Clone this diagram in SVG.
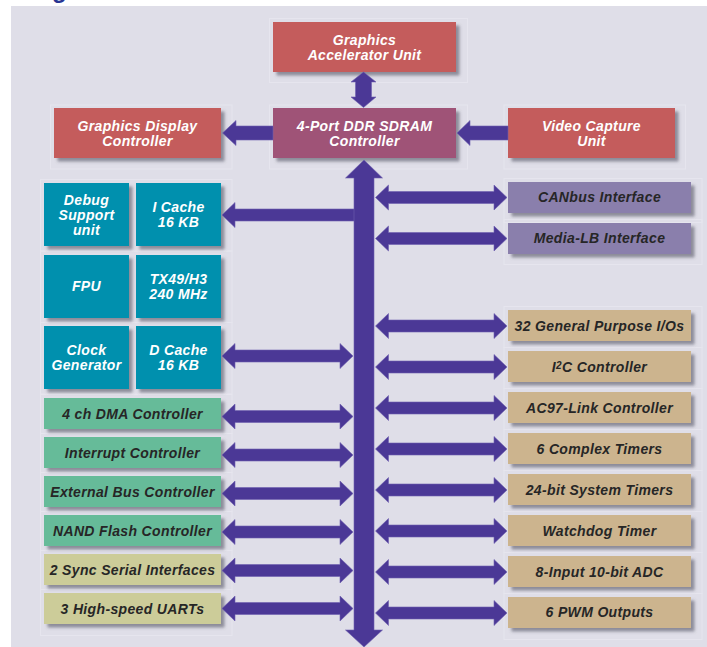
<svg xmlns="http://www.w3.org/2000/svg" xmlns:xlink="http://www.w3.org/1999/xlink" width="707" height="647" viewBox="0 0 707 647">
<defs>
<style>
.t{font-family:"Liberation Sans",Arial,sans-serif;font-weight:bold;font-style:italic;font-size:14px;letter-spacing:0.35px;text-anchor:middle}
.w{fill:#ffffff}
.d{fill:#262626}
.red{fill:#C45C5B}
.ddr{fill:#9F5277}
.teal{fill:#0090AE}
.grn{fill:#66BB99}
.kha{fill:#CCCC99}
.tan{fill:#CCB48E}
.pg{fill:#8A7FAC}
.fr{fill:none;stroke:#E6E5EE;stroke-width:1}
.arr{fill:#4B3896;stroke:#6E5FB0;stroke-width:0.6}
</style>
<filter id="sh" x="-10%" y="-20%" width="130%" height="150%">
<feDropShadow dx="3.5" dy="3.5" stdDeviation="1.8" flood-color="#555566" flood-opacity="0.6"/>
</filter>
<path id="ar" d="M375.5,0 L388.5,-12.5 L388.5,-6 L494,-6 L494,-12.5 L507,0 L494,12.5 L494,6 L388.5,6 L388.5,12.5 Z"/>
<path id="al" d="M222,0 L235,-12.5 L235,-6 L340,-6 L340,-12.5 L353,0 L340,12.5 L340,6 L235,6 L235,12.5 Z"/>
</defs>
<rect x="0" y="0" width="707" height="647" fill="#ffffff"/>
<rect x="11" y="6" width="696" height="641" fill="#DFDEE8"/>
<text x="52" y="-2" style="font-family:'Liberation Sans',Arial,sans-serif;font-weight:bold;font-size:24px;fill:#283593">g</text>

<g id="frames">
<rect class="fr" x="269.5" y="18.5" width="198" height="64"/>
<rect class="fr" x="50.5" y="105" width="181.5" height="64"/>
<rect class="fr" x="269.5" y="105" width="198" height="64"/>
<rect class="fr" x="504" y="105" width="181.5" height="64"/>
<rect class="fr" x="40.5" y="179.5" width="191.5" height="71.5"/>
<rect class="fr" x="40.5" y="251" width="191.5" height="71.5"/>
<rect class="fr" x="40.5" y="322.5" width="191.5" height="71.5"/>
<rect class="fr" x="40.5" y="394.5" width="191.5" height="39"/>
<rect class="fr" x="40.5" y="433.5" width="191.5" height="39"/>
<rect class="fr" x="40.5" y="472.5" width="191.5" height="39"/>
<rect class="fr" x="40.5" y="511.5" width="191.5" height="39"/>
<rect class="fr" x="40.5" y="550.5" width="191.5" height="39"/>
<rect class="fr" x="40.5" y="589.5" width="191.5" height="46"/>
<rect class="fr" x="504" y="178.5" width="198" height="44"/>
<rect class="fr" x="504" y="219.5" width="198" height="45"/>
<rect class="fr" x="504" y="306.5" width="198" height="41"/>
<rect class="fr" x="504" y="347.5" width="198" height="41"/>
<rect class="fr" x="504" y="388.5" width="198" height="41"/>
<rect class="fr" x="504" y="429.5" width="198" height="41"/>
<rect class="fr" x="504" y="470.5" width="198" height="41"/>
<rect class="fr" x="504" y="511.5" width="198" height="41"/>
<rect class="fr" x="504" y="552.5" width="198" height="41"/>
<rect class="fr" x="504" y="593.5" width="198" height="46"/>
</g>

<g id="gau"><rect class="red" x="273" y="22" width="183" height="50" filter="url(#sh)"/>
<text class="t w" x="364.5" y="45">Graphics</text><text class="t w" x="364.5" y="60">Accelerator Unit</text></g>
<g id="gdc"><rect class="red" x="54" y="108" width="167" height="50" filter="url(#sh)"/>
<text class="t w" x="137.5" y="130.5">Graphics Display</text><text class="t w" x="137.5" y="145.5">Controller</text></g>
<g id="ddr"><rect class="ddr" x="273" y="108" width="183" height="50" filter="url(#sh)"/>
<text class="t w" x="364.5" y="130.5">4-Port DDR SDRAM</text><text class="t w" x="364.5" y="145.5">Controller</text></g>
<g id="vcu"><rect class="red" x="508" y="108" width="167" height="50" filter="url(#sh)"/>
<text class="t w" x="591.5" y="130.5">Video Capture</text><text class="t w" x="591.5" y="145.5">Unit</text></g>

<g id="debug"><rect class="teal" x="44" y="183" width="85" height="63" filter="url(#sh)"/>
<text class="t w" x="86.5" y="205">Debug</text><text class="t w" x="86.5" y="220">Support</text><text class="t w" x="86.5" y="235">unit</text></g>
<g id="icache"><rect class="teal" x="136" y="183" width="85" height="63" filter="url(#sh)"/>
<text class="t w" x="178.5" y="211.5">I Cache</text><text class="t w" x="178.5" y="226.5">16 KB</text></g>
<g id="fpu"><rect class="teal" x="44" y="255" width="85" height="63" filter="url(#sh)"/>
<text class="t w" x="86.5" y="290.5">FPU</text></g>
<g id="tx49"><rect class="teal" x="136" y="255" width="85" height="63" filter="url(#sh)"/>
<text class="t w" x="178.5" y="283.5">TX49/H3</text><text class="t w" x="178.5" y="298.5">240 MHz</text></g>
<g id="clock"><rect class="teal" x="44" y="326" width="85" height="63" filter="url(#sh)"/>
<text class="t w" x="86.5" y="354.5">Clock</text><text class="t w" x="86.5" y="369.5">Generator</text></g>
<g id="dcache"><rect class="teal" x="136" y="326" width="85" height="63" filter="url(#sh)"/>
<text class="t w" x="178.5" y="354.5">D Cache</text><text class="t w" x="178.5" y="369.5">16 KB</text></g>

<g id="dma"><rect class="grn" x="44" y="398" width="177" height="31" filter="url(#sh)"/><text class="t d" x="132.5" y="419">4 ch DMA Controller</text></g>
<g id="intc"><rect class="grn" x="44" y="437" width="177" height="31" filter="url(#sh)"/><text class="t d" x="132.5" y="458">Interrupt Controller</text></g>
<g id="ebc"><rect class="grn" x="44" y="476" width="177" height="31" filter="url(#sh)"/><text class="t d" x="132.5" y="497">External Bus Controller</text></g>
<g id="nand"><rect class="grn" x="44" y="515" width="177" height="31" filter="url(#sh)"/><text class="t d" x="132.5" y="536">NAND Flash Controller</text></g>
<g id="sio"><rect class="kha" x="44" y="554" width="177" height="31" filter="url(#sh)"/><text class="t d" x="132.5" y="575">2 Sync Serial Interfaces</text></g>
<g id="uart"><rect class="kha" x="44" y="593" width="177" height="31" filter="url(#sh)"/><text class="t d" x="132.5" y="614">3 High-speed UARTs</text></g>

<g id="can"><rect class="pg" x="508" y="182" width="183" height="31" filter="url(#sh)"/><text class="t d" x="599.5" y="202">CANbus Interface</text></g>
<g id="mlb"><rect class="pg" x="508" y="223" width="183" height="31" filter="url(#sh)"/><text class="t d" x="599.5" y="243">Media-LB Interface</text></g>
<g id="gpio"><rect class="tan" x="508" y="310" width="183" height="31" filter="url(#sh)"/><text class="t d" x="599.5" y="330.5">32 General Purpose I/Os</text></g>
<g id="i2c"><rect class="tan" x="508" y="351" width="183" height="31" filter="url(#sh)"/><text class="t d" x="599.5" y="371.5">I<tspan font-size="10" dy="-3">2</tspan><tspan dy="3">C Controller</tspan></text></g>
<g id="ac97"><rect class="tan" x="508" y="392" width="183" height="31" filter="url(#sh)"/><text class="t d" x="599.5" y="412.5">AC97-Link Controller</text></g>
<g id="ctim"><rect class="tan" x="508" y="433" width="183" height="31" filter="url(#sh)"/><text class="t d" x="599.5" y="453.5">6 Complex Timers</text></g>
<g id="stim"><rect class="tan" x="508" y="474" width="183" height="31" filter="url(#sh)"/><text class="t d" x="599.5" y="494.5">24-bit System Timers</text></g>
<g id="wdt"><rect class="tan" x="508" y="515" width="183" height="31" filter="url(#sh)"/><text class="t d" x="599.5" y="535.5">Watchdog Timer</text></g>
<g id="adc"><rect class="tan" x="508" y="556" width="183" height="31" filter="url(#sh)"/><text class="t d" x="599.5" y="576.5">8-Input 10-bit ADC</text></g>
<g id="pwm"><rect class="tan" x="508" y="597" width="183" height="31" filter="url(#sh)"/><text class="t d" x="599.5" y="616.5">6 PWM Outputs</text></g>

<g id="connectors">
<path class="arr" d="M363.5,72 L376,82 L371.5,82 L371.5,97 L376,97 L363.5,107.5 L351,97 L355.5,97 L355.5,82 L351,82 Z"/>
<path class="arr" d="M222.5,133 L236,120.5 L236,126 L273,126 L273,140 L236,140 L236,145.5 Z"/>
<path class="arr" d="M457,133 L470,120.5 L470,126 L508,126 L508,140 L470,140 L470,145.5 Z"/>
<path class="arr" d="M222,215 L235,202.5 L235,209 L356,209 L356,221 L235,221 L235,227.5 Z"/>
<path class="arr" d="M364,160 L382.5,178 L374,178 L374,630 L382.5,630 L364,647 L345.5,630 L354,630 L354,178 L345.5,178 Z"/>
<use class="arr" xlink:href="#al" href="#al" transform="translate(0,356)"/>
<use class="arr" xlink:href="#al" href="#al" transform="translate(0,416.5)"/>
<use class="arr" xlink:href="#al" href="#al" transform="translate(0,455)"/>
<use class="arr" xlink:href="#al" href="#al" transform="translate(0,493.5)"/>
<use class="arr" xlink:href="#al" href="#al" transform="translate(0,532)"/>
<use class="arr" xlink:href="#al" href="#al" transform="translate(0,570.5)"/>
<use class="arr" xlink:href="#al" href="#al" transform="translate(0,608.5)"/>
<use class="arr" xlink:href="#ar" href="#ar" transform="translate(0,197.5)"/>
<use class="arr" xlink:href="#ar" href="#ar" transform="translate(0,238.5)"/>
<use class="arr" xlink:href="#ar" href="#ar" transform="translate(0,326)"/>
<use class="arr" xlink:href="#ar" href="#ar" transform="translate(0,367)"/>
<use class="arr" xlink:href="#ar" href="#ar" transform="translate(0,408)"/>
<use class="arr" xlink:href="#ar" href="#ar" transform="translate(0,449)"/>
<use class="arr" xlink:href="#ar" href="#ar" transform="translate(0,490)"/>
<use class="arr" xlink:href="#ar" href="#ar" transform="translate(0,531)"/>
<use class="arr" xlink:href="#ar" href="#ar" transform="translate(0,572)"/>
<use class="arr" xlink:href="#ar" href="#ar" transform="translate(0,613)"/>
</g>
</svg>
